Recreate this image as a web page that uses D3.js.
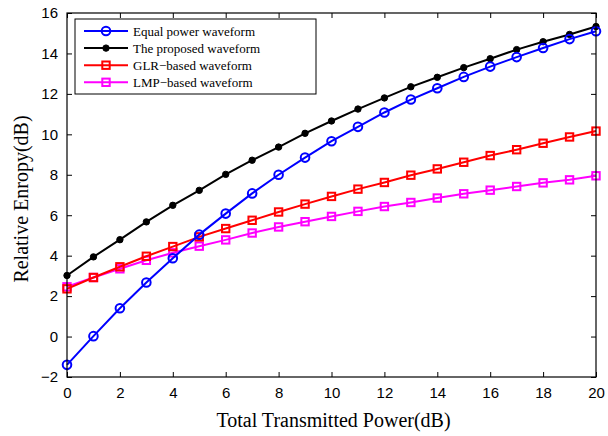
<!DOCTYPE html>
<html>
<head>
<meta charset="utf-8">
<script src="https://cdn.jsdelivr.net/npm/d3@7"></script>
<style>
  body { margin: 0; background: #fff; }
  svg { display: block; }
</style>
</head>
<body>
<div id="root"></div>
<script>
var width = 608,
    height = 436,
    margin = { top: 13, right: 12, bottom: 59, left: 67 };

// x values (dB)
var power = d3.range(0, 21);
// series
var equalPower = [-1.40, 0.02, 1.40, 2.67, 3.87, 5.04, 6.08, 7.08, 8.00, 8.85, 9.66,
                  10.37, 11.08, 11.72, 12.28, 12.84, 13.35, 13.82, 14.27, 14.71, 15.10];
var proposed = [3.02, 3.94, 4.79, 5.67, 6.49, 7.23, 8.02, 8.72, 9.37, 10.05, 10.66,
                11.25, 11.80, 12.35, 12.82, 13.30, 13.74, 14.19, 14.58, 14.94, 15.33];
var glr = [2.36, 2.92, 3.45, 3.97, 4.45, 4.93, 5.34, 5.75, 6.16, 6.55, 6.93,
           7.29, 7.62, 7.98, 8.29, 8.62, 8.95, 9.24, 9.56, 9.87, 10.16];
var lmp = [2.46, 2.92, 3.35, 3.77, 4.14, 4.47, 4.78, 5.12, 5.42, 5.68, 5.94,
           6.19, 6.43, 6.63, 6.85, 7.06, 7.24, 7.42, 7.60, 7.75, 7.95];

var seriesNames = ["Equal power waveform", "The proposed waveform", "GLR\u2212based waveform", "LMP\u2212based waveform"];
var seriesColors = ["#0000ff", "#000000", "#ff0000", "#ff00ff"];
var seriesMarkers = ["circle", "dot", "square", "square"];
var xTicks = d3.range(0, 21, 2);
var yTicks = d3.range(-2, 17, 2);

var series = [equalPower, proposed, glr, lmp].map(function (vals, i) {
    return {
        name: seriesNames[i],
        color: seriesColors[i],
        marker: seriesMarkers[i],
        values: vals.map(function (v, j) { return { x: power[j], y: v }; })
    };
});

var w = width - margin.left - margin.right,
    h = height - margin.top - margin.bottom;

var svg = d3.select("#root")
    .append("svg")
    .attr("width", width)
    .attr("height", height);

var g = svg.append("g")
    .attr("transform", "translate(" + margin.left + "," + margin.top + ")");

var x = d3.scaleLinear().domain([0, 20]).range([0, w]);
var y = d3.scaleLinear().domain([-2, 16]).range([h, 0]);

var tickFont = "Liberation Sans, Arial, sans-serif";
var labelFont = "Liberation Serif, Times New Roman, serif";

// axes: ticks pointing inward, mirrored on top / right
function styleAxis(sel) {
    sel.select(".domain").remove();
    sel.selectAll("line").attr("stroke", "#000").attr("stroke-width", 1);
    sel.selectAll("text")
        .attr("font-family", tickFont)
        .attr("font-size", 15)
        .attr("fill", "#000");
}

g.append("g")
    .attr("transform", "translate(0," + h + ")")
    .call(d3.axisBottom(x).tickValues(xTicks).tickSizeInner(-5).tickPadding(10).tickFormat(d3.format("d")))
    .call(styleAxis);

g.append("g")
    .call(d3.axisTop(x).tickValues(xTicks).tickSizeInner(-5).tickFormat(""))
    .call(styleAxis);

g.append("g")
    .call(d3.axisLeft(y).tickValues(yTicks).tickSizeInner(-5).tickPadding(9).tickFormat(function (d) {
        return d < 0 ? "\u2212" + Math.abs(d) : d;
    }))
    .call(styleAxis);

g.append("g")
    .attr("transform", "translate(" + w + ",0)")
    .call(d3.axisRight(y).tickValues(yTicks).tickSizeInner(-5).tickFormat(""))
    .call(styleAxis);

// lines
var line = d3.line()
    .x(function (d) { return x(d.x); })
    .y(function (d) { return y(d.y); });

function drawMarker(sel, s) {
    if (s.marker === "circle") {
        sel.append("circle").attr("r", 4.3)
            .attr("fill", "none").attr("stroke", s.color).attr("stroke-width", 2);
    } else if (s.marker === "dot") {
        sel.append("circle").attr("r", 3.2)
            .attr("fill", s.color).attr("stroke", s.color).attr("stroke-width", 1);
    } else {
        sel.append("rect").attr("x", -3.7).attr("y", -3.7).attr("width", 7.4).attr("height", 7.4)
            .attr("fill", "none").attr("stroke", s.color).attr("stroke-width", 2);
    }
}

var order = [3, 2, 1, 0];
order.forEach(function (i) {
    var s = series[i];
    g.append("path")
        .datum(s.values)
        .attr("d", line)
        .attr("fill", "none")
        .attr("stroke", s.color)
        .attr("stroke-width", 2);
    g.selectAll(".m" + i)
        .data(s.values)
        .enter()
        .append("g")
        .attr("class", "m" + i)
        .attr("transform", function (d) { return "translate(" + x(d.x) + "," + y(d.y) + ")"; })
        .each(function () { drawMarker(d3.select(this), s); });
});

// box
g.append("rect")
    .attr("width", w)
    .attr("height", h)
    .attr("fill", "none")
    .attr("stroke", "#000")
    .attr("stroke-width", 1.2);

// legend
var legend = g.append("g").attr("transform", "translate(8,6)");
legend.append("rect")
    .attr("width", 241)
    .attr("height", 75)
    .attr("fill", "#fff")
    .attr("stroke", "#000")
    .attr("stroke-width", 1);

series.forEach(function (s, i) {
    var row = legend.append("g").attr("transform", "translate(0," + (12 + i * 17.1) + ")");
    row.append("line")
        .attr("x1", 9).attr("x2", 53)
        .attr("stroke", s.color).attr("stroke-width", 2);
    drawMarker(row.append("g").attr("transform", "translate(31,0)"), s);
    row.append("text")
        .attr("x", 58)
        .attr("y", 4.5)
        .attr("font-family", labelFont)
        .attr("font-size", 13)
        .attr("fill", "#000")
        .text(s.name);
});

// axis labels
svg.append("text")
    .attr("x", margin.left + w / 2 + 2)
    .attr("y", 427)
    .attr("text-anchor", "middle")
    .attr("font-family", labelFont)
    .attr("font-size", 20)
    .text("Total Transmitted Power(dB)");

svg.append("text")
    .attr("transform", "translate(28," + (margin.top + h / 2 + 4) + ") rotate(-90)")
    .attr("text-anchor", "middle")
    .attr("font-family", labelFont)
    .attr("font-size", 20)
    .text("Relative Enropy(dB)");
</script>
</body>
</html>
